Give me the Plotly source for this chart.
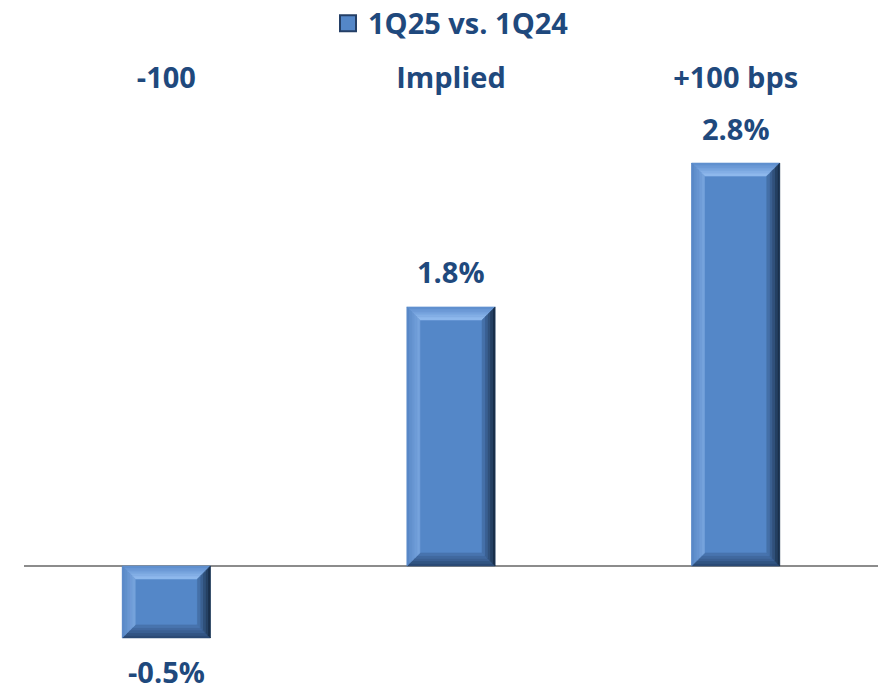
import plotly.graph_objects as go

# Net interest income sensitivity by rate scenario
scenarios = ["-100", "Implied", "+100 bps"]
change_pct = [-0.5, 1.8, 2.8]
series_name = "1Q25 vs. 1Q24"

TEXT_BLUE = "#1F497D"
FACE = "#5487C8"
FONT = "Open Sans"

BAR_W = 0.31
PX_PER_X = 854 / 3.0          # plot width / x-range
PX_PER_Y = 590 / 4.1          # plot height / y-range
BEVEL_PX = 13

xs = list(range(len(scenarios)))

fig = go.Figure()
fig.add_trace(go.Bar(
    x=xs, y=change_pct, width=BAR_W, name=series_name,
    marker=dict(color=FACE, line=dict(width=0)),
    showlegend=False, hoverinfo="skip",
))
# legend entry
fig.add_trace(go.Scatter(
    x=[None], y=[None], mode="markers", name=series_name,
    marker=dict(symbol="square", size=20, color=FACE,
                line=dict(color="#243F66", width=2)),
))


def lerp(c1, c2, t):
    a = [int(c1[i:i + 2], 16) for i in (1, 3, 5)]
    b = [int(c2[i:i + 2], 16) for i in (1, 3, 5)]
    return "#%02x%02x%02x" % tuple(round(a[k] + (b[k] - a[k]) * t) for k in range(3))


# bevel colours: (outer edge, inner edge)
bevel_cols = {
    "top": ("#5A8BCB", "#94BDF0"),
    "left": ("#5686C6", "#7AA6DE"),
    "right": ("#15283F", "#4A78B4"),
    "bottom": ("#27456E", "#4C79B5"),
}

shapes = []
steps = 5
dx = BEVEL_PX / PX_PER_X
dy = BEVEL_PX / PX_PER_Y
for x, v in zip(xs, change_pct):
    x0, x1 = x - BAR_W / 2, x + BAR_W / 2
    y0, y1 = min(0, v), max(0, v)
    for s in range(steps):
        t0, t1 = s / steps, (s + 1) / steps
        # outer and inner rectangles of this strip
        ox0, ox1, oy0, oy1 = x0 + dx * t0, x1 - dx * t0, y0 + dy * t0, y1 - dy * t0
        ix0, ix1, iy0, iy1 = x0 + dx * t1, x1 - dx * t1, y0 + dy * t1, y1 - dy * t1
        tm = (t0 + t1) / 2
        polys = {
            "top": [(ox0, oy1), (ox1, oy1), (ix1, iy1), (ix0, iy1)],
            "bottom": [(ox0, oy0), (ox1, oy0), (ix1, iy0), (ix0, iy0)],
            "left": [(ox0, oy0), (ox0, oy1), (ix0, iy1), (ix0, iy0)],
            "right": [(ox1, oy0), (ox1, oy1), (ix1, iy1), (ix1, iy0)],
        }
        for side, pts in polys.items():
            c = lerp(bevel_cols[side][0], bevel_cols[side][1], tm)
            path = "M " + " L ".join(f"{px},{py}" for px, py in pts) + " Z"
            shapes.append(dict(type="path", xref="x", yref="y", path=path,
                               fillcolor=c, line=dict(width=0.6, color=c),
                               layer="above"))

annotations = []
for x, v in zip(xs, change_pct):
    annotations.append(dict(
        x=x, y=v, xref="x", yref="y", text=f"{v:.1f}%", showarrow=False,
        yanchor="middle",
        yshift=35 if v >= 0 else -34,
        font=dict(family=FONT, size=29, color=TEXT_BLUE, weight="bold"),
    ))

fig.update_layout(
    width=882, height=690,
    margin=dict(l=24, r=4, t=100, b=0, autoexpand=False),
    paper_bgcolor="white", plot_bgcolor="white",
    shapes=shapes, annotations=annotations,
    showlegend=True,
    legend=dict(orientation="h", x=0.5, xanchor="center", y=1.130, yanchor="middle",
                font=dict(family=FONT, size=29, color=TEXT_BLUE, weight="bold"),
                itemwidth=30, bgcolor="rgba(0,0,0,0)"),
    xaxis=dict(range=[-0.5, 2.5], side="top", tickmode="array", tickvals=xs,
               ticktext=scenarios, showgrid=False, zeroline=False, showline=False,
               ticks="", ticklabelstandoff=5,
               tickfont=dict(family=FONT, size=29, color=TEXT_BLUE, weight="bold")),
    yaxis=dict(range=[-0.862, 3.238], showgrid=False, showticklabels=False,
               zeroline=True, zerolinecolor="#8C8C8C", zerolinewidth=2, showline=False),
)

fig.write_html("out.html")
